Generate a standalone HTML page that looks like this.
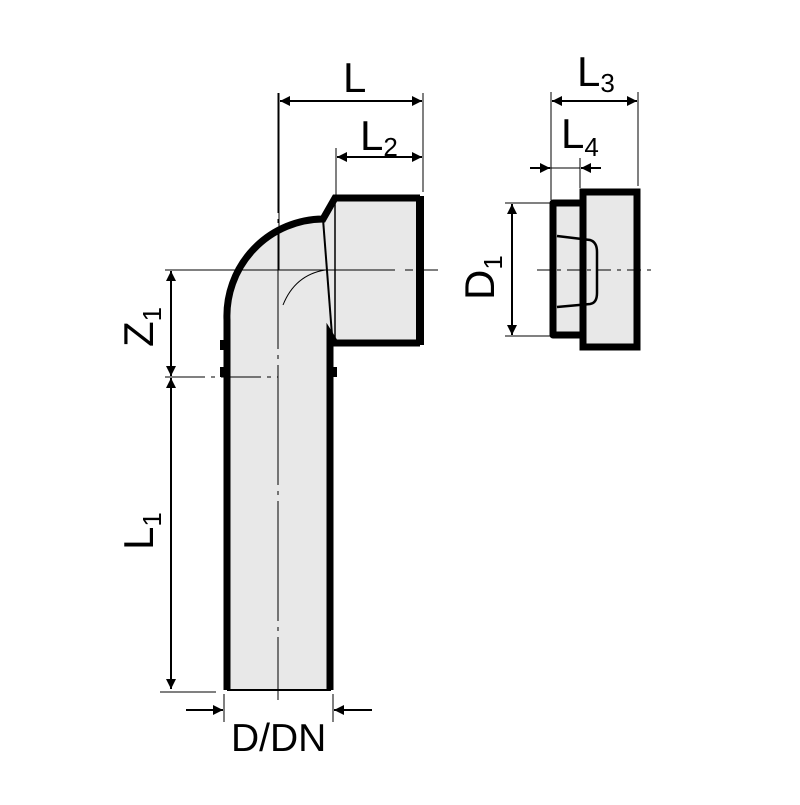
<!DOCTYPE html>
<html><head><style>html,body{margin:0;padding:0;background:#fff}</style></head><body>
<svg width="800" height="800" viewBox="0 0 800 800" xmlns="http://www.w3.org/2000/svg" font-family="Liberation Sans, sans-serif">
<defs>
<marker id="a" viewBox="0 0 10 10" refX="10" refY="5" markerWidth="14" markerHeight="10" markerUnits="userSpaceOnUse" orient="auto-start-reverse"><path d="M0,0L10,5L0,10z" fill="#000"/></marker>
</defs>
<path d="M228,690 L228,320 A97,97 0 0 1 323,219 L335,198 L420,198 L420,342 L335,342 L332,335 L330,690 Z" fill="#e8e8e8"/>
<path d="M227,690 L227,320 A97,97 0 0 1 323,219 L335,198 L420,198" fill="none" stroke="#000" stroke-width="7"/>
<line x1="420" y1="196" x2="420" y2="345" stroke="#000" stroke-width="8"/>
<path d="M420,343 L335,343 L330,335 L330,690" fill="none" stroke="#000" stroke-width="7"/>
<line x1="323" y1="219" x2="332" y2="335" stroke="#000" stroke-width="2"/>
<line x1="335" y1="198" x2="335" y2="342" stroke="#000" stroke-width="1.5"/>
<line x1="227" y1="690" x2="331" y2="690" stroke="#000" stroke-width="2"/>
<rect x="220" y="340" width="4" height="10" fill="#000"/><rect x="220" y="367" width="4" height="10" fill="#000"/>
<rect x="333" y="367" width="4" height="10" fill="#000"/>
<line x1="278" y1="93" x2="278" y2="700" stroke="#000" stroke-width="1" stroke-dasharray="120,6,4,6"/>
<line x1="165" y1="270" x2="438" y2="270" stroke="#000" stroke-width="1" stroke-dasharray="230,10,8,10"/>
<path d="M283,305 Q295,275 325,270" fill="none" stroke="#000" stroke-width="1"/>
<line x1="165" y1="377" x2="278" y2="377" stroke="#000" stroke-width="1" stroke-dasharray="40,6,4,6"/>
<line x1="171" y1="271" x2="171" y2="376" stroke="#000" stroke-width="2" marker-start="url(#a)" marker-end="url(#a)"/>
<line x1="171" y1="378" x2="171" y2="689" stroke="#000" stroke-width="2" marker-start="url(#a)" marker-end="url(#a)"/>
<line x1="160" y1="692" x2="216" y2="692" stroke="#000" stroke-width="1"/>
<text x="0" y="0" font-size="42" transform="translate(153,347) rotate(-90)">Z<tspan font-size="26" dy="8">1</tspan></text>
<text x="0" y="0" font-size="42" transform="translate(153,550) rotate(-90)">L<tspan font-size="26" dy="8">1</tspan></text>
<line x1="279" y1="93" x2="279" y2="270" stroke="#000" stroke-width="1"/>
<line x1="423" y1="93" x2="423" y2="192" stroke="#000" stroke-width="1"/>
<line x1="336" y1="148" x2="336" y2="196" stroke="#000" stroke-width="1"/>
<line x1="280" y1="101" x2="422" y2="101" stroke="#000" stroke-width="2" marker-start="url(#a)" marker-end="url(#a)"/>
<line x1="337" y1="157" x2="422" y2="157" stroke="#000" stroke-width="2" marker-start="url(#a)" marker-end="url(#a)"/>
<text x="343" y="92" font-size="42">L</text>
<text x="360" y="150" font-size="42">L<tspan font-size="26" dy="6">2</tspan></text>
<line x1="224" y1="694" x2="224" y2="722" stroke="#000" stroke-width="1"/>
<line x1="333" y1="694" x2="333" y2="722" stroke="#000" stroke-width="1"/>
<line x1="186" y1="710" x2="223" y2="710" stroke="#000" stroke-width="2" marker-end="url(#a)"/>
<line x1="372" y1="710" x2="334" y2="710" stroke="#000" stroke-width="2" marker-end="url(#a)"/>
<text x="231" y="751" font-size="39">D/DN</text>
<path d="M583,192 L637,192 L637,347 L583,347 L583,335 L553,335 L553,203 L583,203 Z" fill="#e8e8e8"/>
<path d="M583,203 L553,203 L553,335 L583,335" fill="none" stroke="#000" stroke-width="7" stroke-linejoin="round"/>
<path d="M583,347 L583,192 L637,192 L637,347 Z" fill="none" stroke="#000" stroke-width="7"/>
<line x1="583" y1="196" x2="583" y2="344" stroke="#000" stroke-width="1.5"/>
<path d="M557,236 L590,240 Q597,242 597,252 L597,293 Q597,303 590,304 L557,307" fill="none" stroke="#000" stroke-width="2.5"/>
<line x1="537" y1="270" x2="652" y2="270" stroke="#000" stroke-width="1" stroke-dasharray="14,6,4,6"/>
<line x1="551" y1="92" x2="551" y2="200" stroke="#000" stroke-width="1"/>
<line x1="638" y1="92" x2="638" y2="186" stroke="#000" stroke-width="1"/>
<line x1="580" y1="158" x2="580" y2="188" stroke="#000" stroke-width="1"/>
<line x1="552" y1="101" x2="637" y2="101" stroke="#000" stroke-width="2" marker-start="url(#a)" marker-end="url(#a)"/>
<line x1="530" y1="168" x2="550" y2="168" stroke="#000" stroke-width="2" marker-end="url(#a)"/>
<line x1="601" y1="168" x2="581" y2="168" stroke="#000" stroke-width="2" marker-end="url(#a)"/>
<line x1="550" y1="168" x2="580" y2="168" stroke="#000" stroke-width="1"/>
<text x="577" y="86" font-size="42">L<tspan font-size="26" dy="6">3</tspan></text>
<text x="561" y="148" font-size="42">L<tspan font-size="26" dy="8">4</tspan></text>
<line x1="505" y1="203" x2="550" y2="203" stroke="#000" stroke-width="1"/>
<line x1="505" y1="336" x2="550" y2="336" stroke="#000" stroke-width="1"/>
<line x1="512" y1="204" x2="512" y2="335" stroke="#000" stroke-width="2" marker-start="url(#a)" marker-end="url(#a)"/>
<text x="0" y="0" font-size="42" transform="translate(494,300) rotate(-90)">D<tspan font-size="26" dy="8">1</tspan></text>
</svg>
</body></html>
